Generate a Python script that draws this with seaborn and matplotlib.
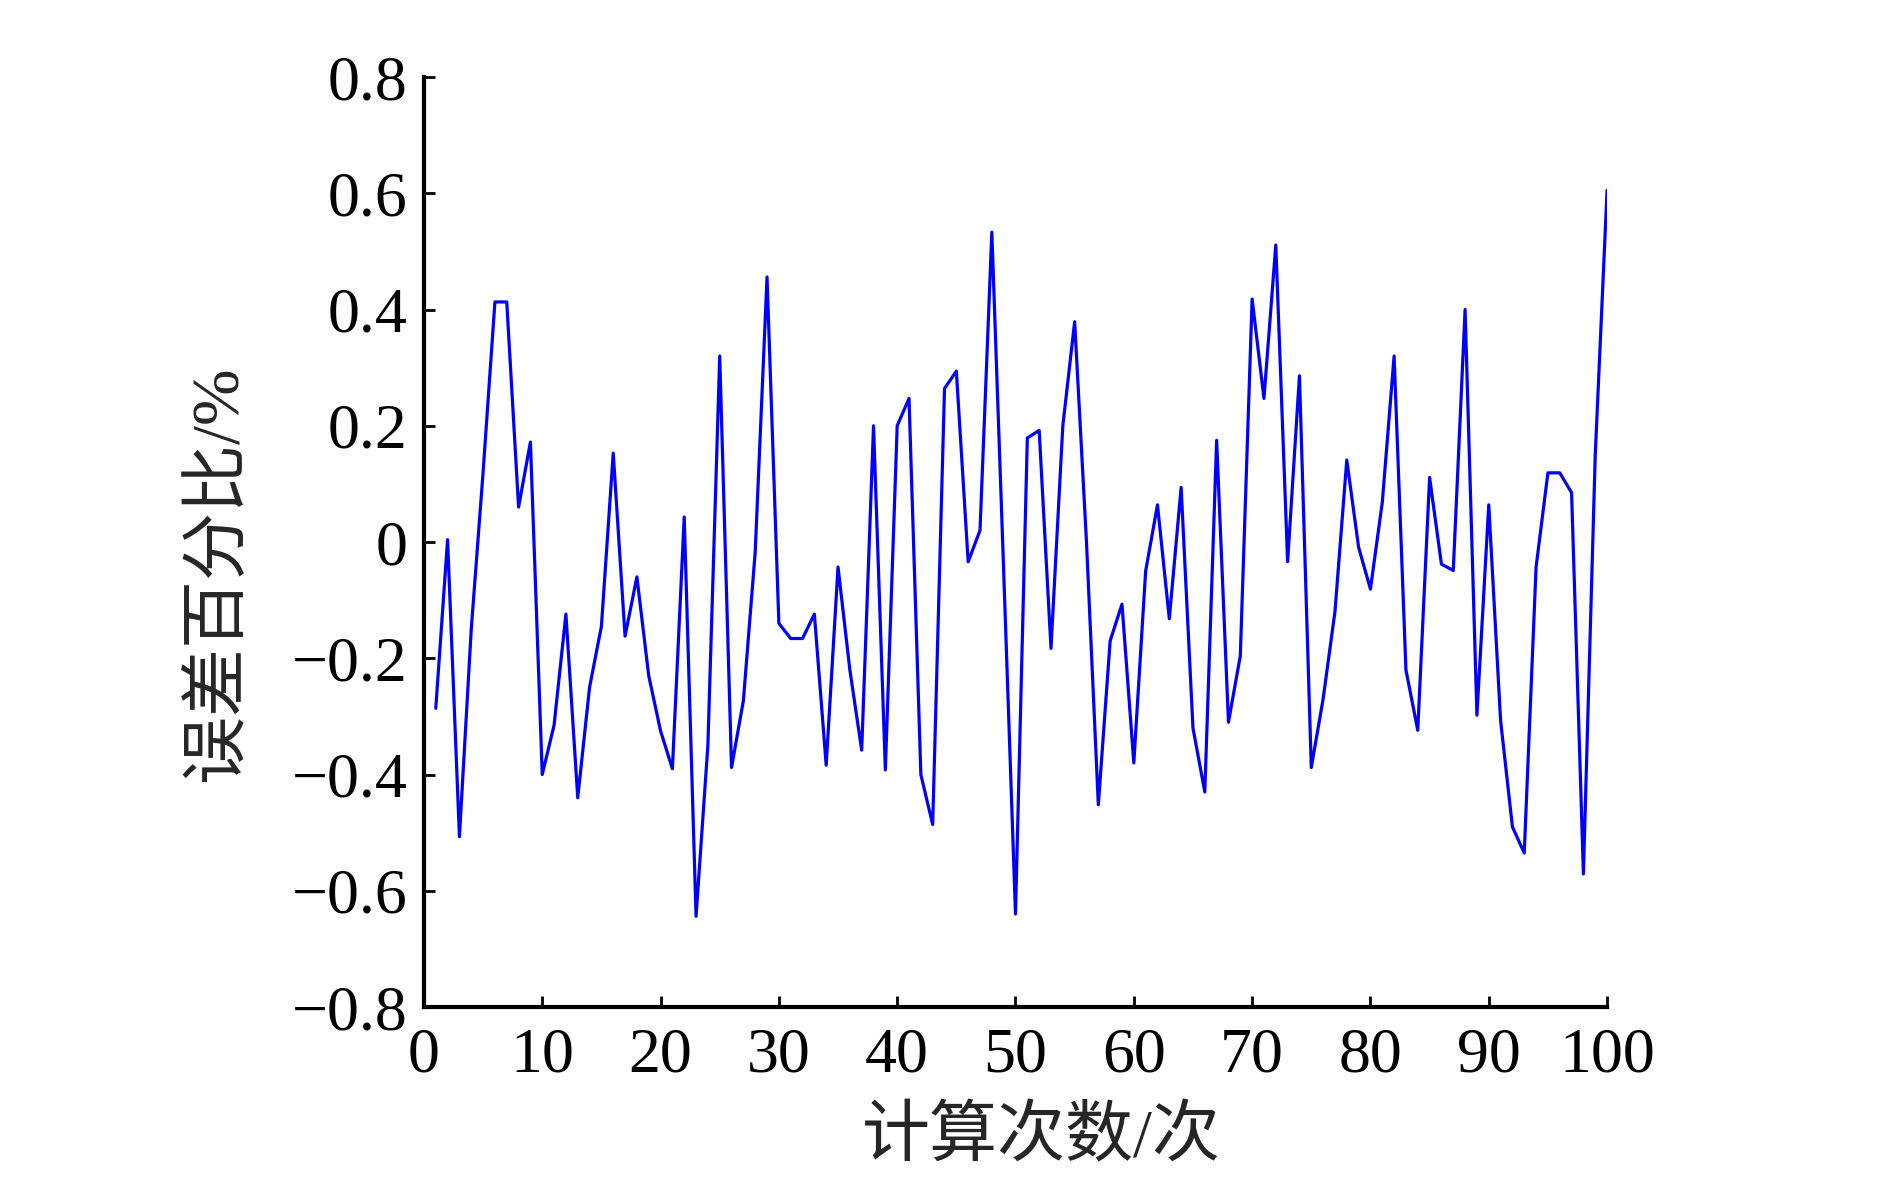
import numpy as np
import pandas as pd
import matplotlib
matplotlib.use("Agg")
import matplotlib.pyplot as plt
import seaborn as sns

# Dados (calculation number x error percentage)
calc_num = list(range(1, 101))
erro_pct = [
    -0.286, 0.004, -0.507, -0.15, 0.12, 0.413, 0.413, 0.06, 0.172, -0.40,
    -0.315, -0.124, -0.44, -0.25, -0.145, 0.153, -0.162, -0.06, -0.23, -0.325,
    -0.39, 0.043, -0.644, -0.35, 0.32, -0.388, -0.273, -0.017, 0.456, -0.14,
    -0.166, -0.166, -0.124, -0.384, -0.043, -0.22, -0.358, 0.2, -0.392, 0.2,
    0.247, -0.40, -0.486, 0.264, 0.294, -0.034, 0.02, 0.533, -0.05, -0.64,
    0.179, 0.192, -0.183, 0.2, 0.379, 0.0, -0.452, -0.17, -0.107, -0.38,
    -0.05, 0.064, -0.132, 0.094, -0.32, -0.43, 0.175, -0.31, -0.196, 0.418,
    0.247, 0.511, -0.034, 0.286, -0.388, -0.27, -0.12, 0.141, -0.009, -0.081,
    0.068, 0.32, -0.22, -0.324, 0.111, -0.038, -0.049, 0.40, -0.298, 0.064,
    -0.307, -0.49, -0.535, -0.043, 0.119, 0.119, 0.085, -0.571, 0.15, 0.605,
]
x_ticks = list(range(0, 101, 10))
y_ticks = [-0.8, -0.6, -0.4, -0.2, 0, 0.2, 0.4, 0.6, 0.8]
x_label = "计算次数/次"
y_label = "误差百分比/%"

df = pd.DataFrame({"calc": calc_num, "erro": erro_pct})

sns.set_style("ticks")
plt.rcParams["font.family"] = ["Liberation Serif", "Noto Sans CJK SC"]
plt.rcParams["axes.unicode_minus"] = True

fig = plt.figure(figsize=(18.9, 11.81), dpi=100)
ax = fig.add_axes([0.2243, 0.1473, 0.6260, 0.7875])

sns.lineplot(data=df, x="calc", y="erro", color="#0000ff", linewidth=2.3, ax=ax)

ax.set_xlim(0, 100)
ax.set_ylim(-0.8, 0.8)
ax.set_xticks(x_ticks)
ax.set_yticks(y_ticks)
ax.set_xticklabels([str(v) for v in x_ticks])
ax.set_yticklabels([f"{v:g}".replace("-", "\u2212") for v in y_ticks])

# eixos no estilo do original
sns.despine(ax=ax)
for s in ["left", "bottom"]:
    ax.spines[s].set_linewidth(3)
    ax.spines[s].set_color("black")
ax.tick_params(direction="in", length=8, width=2, labelsize=46, colors="black")
ax.tick_params(axis="y", pad=12)
ax.tick_params(axis="x", pad=15)

ax.set_xlabel(x_label, fontsize=49)
ax.set_ylabel(y_label, fontsize=49)
# posição dos títulos dos eixos como no original
ax.xaxis.set_label_coords(0.522, -0.108)
ax.yaxis.set_label_coords(-0.147, 0.467)

fig.savefig("out.png", dpi=100, facecolor="white")
